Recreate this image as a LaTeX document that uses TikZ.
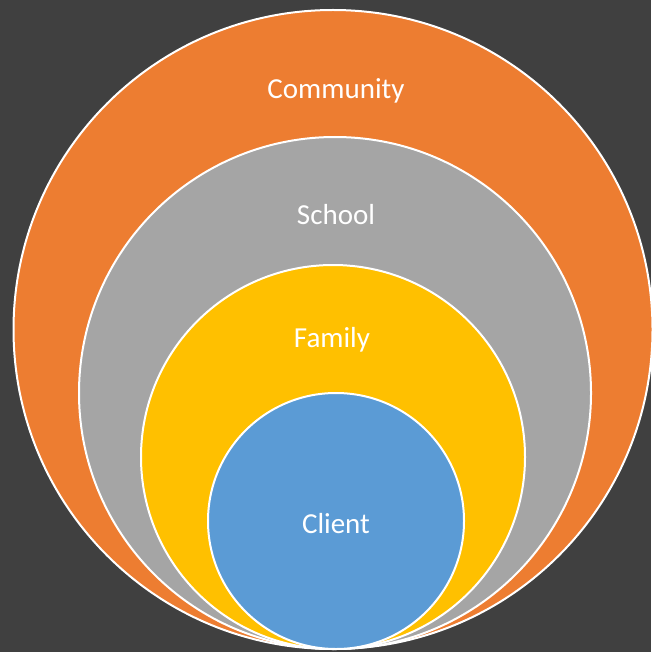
\documentclass[tikz,border=0pt]{standalone}
\usepackage{fontspec}
\setmainfont{Carlito}
\usetikzlibrary{positioning,calc}
\definecolor{backdrop}{HTML}{404040}
\definecolor{commorange}{HTML}{ED7D31}
\definecolor{schoolgray}{HTML}{A5A5A5}
\definecolor{familygold}{HTML}{FFC000}
\definecolor{clientblue}{HTML}{5B9BD5}
\newcommand*{\lbl}[1]{\fontsize{29}{34}\selectfont #1}

\begin{document}
\begin{tikzpicture}[x=1pt,y=-1pt,
  ring/.style={circle,draw=white,line width=2pt,inner sep=0pt},
  word/.style={text=white,inner sep=0pt}]
% Background and page size
\fill[backdrop] (0,0) rectangle (651,652);
\useasboundingbox (0,0) rectangle (651,652);
% All circles touch at the bottom
\coordinate (base) at (334,649);
% Circles from the outside in
\node[ring,fill=commorange,minimum size=639pt] (community) at ($(base)+(-1,-319.5)$) {};
\node[ring,fill=schoolgray,minimum size=512pt] (school) at ($(base)+(1,-256)$) {};
\node[ring,fill=familygold,minimum size=384pt] (family) at ($(base)+(-1,-192)$) {};
\node[ring,fill=clientblue,minimum size=256pt] (client) at ($(base)+(2,-128)$) {};
% Labels
\node[word] (tcommunity) at (336,91) {\lbl{Community}};
\node[word] (tschool) at (336,215) {\lbl{School}};
\node[word] (tfamily) at (332,340) {\lbl{Family}};
\node[word] (tclient) at (336,524) {\lbl{Client}};
\end{tikzpicture}
\end{document}
